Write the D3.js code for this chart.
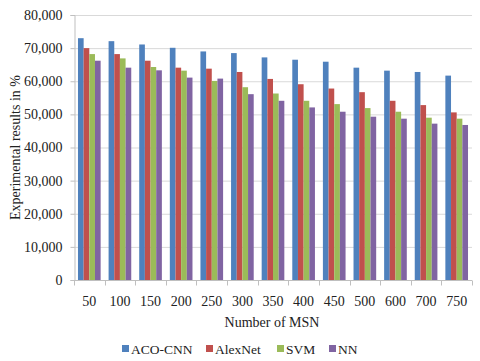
<!DOCTYPE html>
<html>
<head>
<meta charset="utf-8">
<script src="https://cdn.jsdelivr.net/npm/d3@7"></script>
<style>
  body { margin: 0; background: #fff; }
  text { font-family: "Liberation Serif", "Times New Roman", serif; fill: #222; }
</style>
</head>
<body>
<div id="chart"></div>
<script>
const width = 480;
const height = 361;

// data
const categories = ["50", "100", "150", "200", "250", "300", "350", "400", "450", "500", "600", "700", "750"];
const seriesNames = ["ACO-CNN", "AlexNet", "SVM", "NN"];
const acoCnn = [73000, 72100, 71100, 70100, 69000, 68500, 67200, 66500, 65900, 64100, 63200, 62800, 61700];
const alexNet = [70000, 68200, 66200, 64100, 63800, 62800, 60700, 59100, 57800, 56700, 54100, 52800, 50600];
const svm = [68200, 66900, 64300, 63200, 60100, 58200, 56300, 54100, 53100, 51900, 50800, 49000, 48700];
const nn = [66200, 64100, 63300, 61100, 60800, 56100, 54100, 52100, 50800, 49300, 48700, 47200, 46800];
const yTicks = [0, 10000, 20000, 30000, 40000, 50000, 60000, 70000, 80000];

const seriesValues = [acoCnn, alexNet, svm, nn];
const colors = ["#4F81BD", "#C0504D", "#9BBB59", "#8064A2"];

const margin = {top: 15, right: 8, bottom: 81, left: 74};

const svg = d3.select("#chart").append("svg")
    .attr("width", width)
    .attr("height", height);

const x = d3.scaleBand()
    .domain(categories)
    .range([margin.left, width - margin.right])
    .paddingInner(0.26)
    .paddingOuter(0.13);

const xSub = d3.scaleBand()
    .domain(seriesNames)
    .range([0, x.bandwidth()]);

const y = d3.scaleLinear()
    .domain([0, 80000])
    .range([height - margin.bottom, margin.top]);

const fmt = d3.format(",");

// gridlines
svg.append("g")
  .selectAll("line")
  .data(yTicks.slice(1))
  .join("line")
    .attr("x1", margin.left)
    .attr("x2", width - margin.right)
    .attr("y1", d => y(d) + 0.5)
    .attr("y2", d => y(d) + 0.5)
    .attr("stroke", "#d9d9d9");

// bars
const rows = categories.map((c, i) => ({cat: c, vals: seriesNames.map((s, j) => ({s, v: seriesValues[j][i], j}))}));

svg.append("g")
  .selectAll("g")
  .data(rows)
  .join("g")
    .attr("transform", d => `translate(${x(d.cat)},0)`)
  .selectAll("rect")
  .data(d => d.vals)
  .join("rect")
    .attr("x", d => xSub(d.s))
    .attr("width", xSub.bandwidth())
    .attr("y", d => y(d.v))
    .attr("height", d => y(0) - y(d.v))
    .attr("fill", d => colors[d.j]);

// y axis
const yAxis = svg.append("g")
    .attr("transform", `translate(${margin.left + 0.5},0)`)
    .call(d3.axisLeft(y).tickValues(yTicks).tickFormat(fmt).tickSize(4).tickPadding(8));
yAxis.selectAll("path, line").attr("stroke", "#bfbfbf");
yAxis.selectAll("text")
    .style("font-family", "'Liberation Serif', serif")
    .style("font-size", "14px")
    .attr("fill", "#222");

// x axis, ticks on the category boundaries
const baseY = y(0) + 0.5;
svg.append("line")
    .attr("x1", margin.left).attr("x2", width - margin.right)
    .attr("y1", baseY).attr("y2", baseY)
    .attr("stroke", "#bfbfbf");

const bounds = d3.range(categories.length + 1).map(i => margin.left + i * x.step());
svg.append("g")
  .selectAll("line")
  .data(bounds)
  .join("line")
    .attr("x1", d => Math.round(d) + 0.5)
    .attr("x2", d => Math.round(d) + 0.5)
    .attr("y1", baseY)
    .attr("y2", baseY + 5)
    .attr("stroke", "#bfbfbf");

svg.append("g")
  .selectAll("text")
  .data(categories)
  .join("text")
    .attr("x", d => x(d) + x.bandwidth() / 2)
    .attr("y", baseY + 25)
    .attr("text-anchor", "middle")
    .style("font-size", "14px")
    .text(d => d);

// axis titles
svg.append("text")
    .attr("x", 272)
    .attr("y", 327)
    .attr("text-anchor", "middle")
    .style("font-size", "14px")
    .text("Number of MSN");

svg.append("text")
    .attr("transform", `translate(20,${(margin.top + height - margin.bottom) / 2}) rotate(-90)`)
    .attr("text-anchor", "middle")
    .style("font-size", "14px")
    .text("Experimental results in %");

// legend
const legendX = [122, 206, 277, 329];
const legend = svg.append("g")
  .selectAll("g")
  .data(seriesNames)
  .join("g")
    .attr("transform", (d, i) => `translate(${legendX[i]},349)`);
legend.append("rect")
    .attr("x", 0).attr("y", -4)
    .attr("width", 7).attr("height", 7)
    .attr("fill", (d, i) => colors[i]);
legend.append("text")
    .attr("x", 9)
    .attr("y", 5)
    .style("font-size", "13.5px")
    .text(d => d);
</script>
</body>
</html>
